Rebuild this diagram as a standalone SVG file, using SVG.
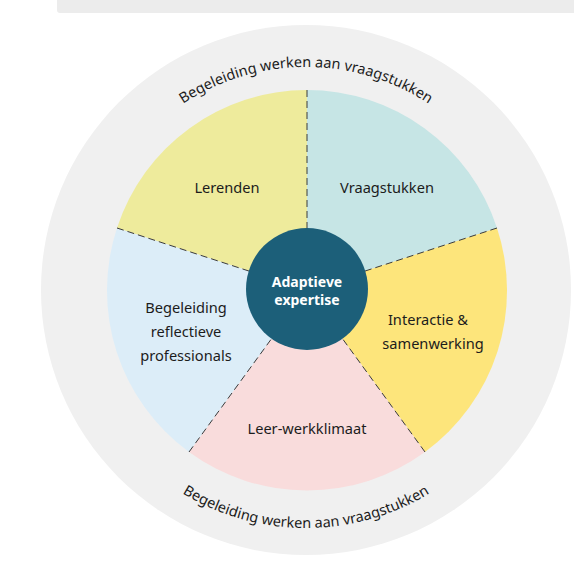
<svg xmlns="http://www.w3.org/2000/svg" width="574" height="574" viewBox="0 0 574 574">
  <style>
    .lbl { font-family: "Noto Sans", "Liberation Sans", sans-serif; font-size: 14.6px; fill: #1c1c1c; text-anchor: middle; }
    .ring { font-family: "Noto Sans", "Liberation Sans", sans-serif; font-size: 14.5px; fill: #1c1c1c; text-anchor: middle; }
    .core { font-family: "Noto Sans", "Liberation Sans", sans-serif; font-size: 14px; font-weight: bold; fill: #ffffff; text-anchor: middle; }
    .div { stroke: #3a3a3a; stroke-width: 1; stroke-dasharray: 7 4; fill: none; }
  </style>
  <defs>
    <path id="arcTop" d="M 83,290 A 223 223 0 0 1 529,290"/>
    <path id="arcBot" d="M 68,290 A 238 238 0 0 0 544,290"/>
  </defs>
  <rect x="0" y="0" width="574" height="574" fill="#ffffff"/>
  <rect x="57" y="-6" width="530" height="19" rx="3" fill="#ececec"/>

  <g id="outer-ring">
    <circle cx="306" cy="290" r="265" fill="#f0f0f0"/>
    <text class="ring"><textPath href="#arcTop" startOffset="50%">Begeleiding werken aan vraagstukken</textPath></text>
    <text class="ring"><textPath href="#arcBot" startOffset="50%">Begeleiding werken aan vraagstukken</textPath></text>
  </g>

  <g id="lerenden">
    <path d="M 307,290 L 117,228 A 200 200 0 0 1 307,90 Z" fill="#eeeb9c"/>
    <text class="lbl" x="227" y="193">Lerenden</text>
  </g>
  <g id="vraagstukken">
    <path d="M 307,290 L 307,90 A 200 200 0 0 1 497,228 Z" fill="#c6e5e5"/>
    <text class="lbl" x="387" y="193">Vraagstukken</text>
  </g>
  <g id="interactie">
    <path d="M 307,290 L 497,228 A 200 200 0 0 1 425,452 Z" fill="#fde57b"/>
    <text class="lbl" x="428" y="325">Interactie &amp;</text>
    <text class="lbl" x="433" y="349">samenwerking</text>
  </g>
  <g id="leer-werkklimaat">
    <path d="M 307,290 L 425,452 A 200 200 0 0 1 189,452 Z" fill="#f9dcdc"/>
    <text class="lbl" x="307" y="434">Leer-werkklimaat</text>
  </g>
  <g id="begeleiding">
    <path d="M 307,290 L 189,452 A 200 200 0 0 1 117,228 Z" fill="#dcedf8"/>
    <text class="lbl" x="186" y="313">Begeleiding</text>
    <text class="lbl" x="186" y="337">reflectieve</text>
    <text class="lbl" x="186" y="361">professionals</text>
  </g>

  <g id="connectors">
    <line class="div" x1="307" y1="90" x2="307" y2="290"/>
    <line class="div" x1="497" y1="228" x2="307" y2="290"/>
    <line class="div" x1="425" y1="452" x2="307" y2="290"/>
    <line class="div" x1="189" y1="452" x2="307" y2="290"/>
    <line class="div" x1="117" y1="228" x2="307" y2="290"/>
  </g>

  <g id="adaptieve-expertise">
    <circle cx="307" cy="289" r="61" fill="#1c5f79"/>
    <text class="core" x="307" y="287">Adaptieve</text>
    <text class="core" x="307" y="305">expertise</text>
  </g>
</svg>
